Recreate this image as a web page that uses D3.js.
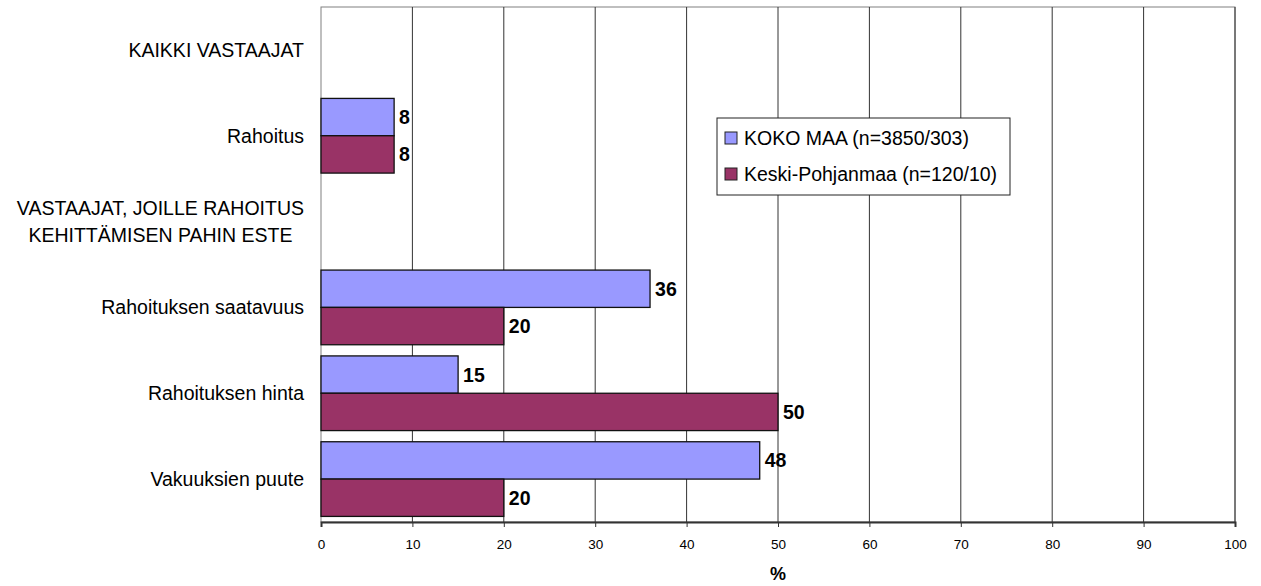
<!DOCTYPE html>
<html>
<head>
<meta charset="utf-8">
<script src="https://cdn.jsdelivr.net/npm/d3@7"></script>
<style>
body { margin: 0; background: #fff; }
text { font-family: "Liberation Sans", Arial, sans-serif; fill: #000; }
</style>
</head>
<body>
<div class="container"></div>
<script>
const width = 1261, height = 586;

const categories = [
	['KAIKKI VASTAAJAT'],
	['Rahoitus'],
	['VASTAAJAT, JOILLE RAHOITUS', 'KEHITTÄMISEN PAHIN ESTE'],
	['Rahoituksen saatavuus'],
	['Rahoituksen hinta'],
	['Vakuuksien puute']
];
const seriesNames = ['KOKO MAA (n=3850/303)', 'Keski-Pohjanmaa (n=120/10)'];
const kokoMaa = [null, 8, null, 36, 15, 48];
const keskiPohjanmaa = [null, 8, null, 20, 50, 20];
const colors = ['#9999ff', '#993366'];
const xTicks = d3.range(0, 101, 10);

const m = {left: 321, right: 1235, top: 7, bottom: 522};

const sx = d3.scaleLinear().domain([0, 100]).range([m.left, m.right]);
const sy = d3.scaleBand().domain(d3.range(categories.length)).range([m.top, m.bottom]).paddingInner(0.13).paddingOuter(0.065);

let svg = d3.select('.container').append('svg')
	.attr('width', width).attr('height', height)
	.attr('viewBox', [0, 0, width, height]);

// plot frame + grid
svg.append('rect')
	.attr('x', m.left).attr('y', m.top)
	.attr('width', m.right - m.left).attr('height', m.bottom - m.top)
	.attr('fill', 'none').attr('stroke', '#808080');

svg.append('g').selectAll('line')
	.data(xTicks.slice(1))
	.join('line')
	.attr('x1', d => sx(d)).attr('x2', d => sx(d))
	.attr('y1', m.top).attr('y2', m.bottom)
	.attr('stroke', '#333').attr('stroke-width', 1);

// bars
const series = [kokoMaa, keskiPohjanmaa];
const sub = d3.scaleBand().domain([0, 1]).range([0, sy.bandwidth()]);

series.forEach((vals, si) => {
	let rows = vals.map((v, i) => ({i, v})).filter(d => d.v != null);
	let g = svg.append('g');
	g.selectAll('rect')
		.data(rows)
		.join('rect')
		.attr('x', sx(0))
		.attr('y', d => sy(d.i) + sub(si))
		.attr('width', d => sx(d.v) - sx(0))
		.attr('height', sub.bandwidth())
		.attr('fill', colors[si])
		.attr('stroke', '#111').attr('stroke-width', 1.3);
	g.selectAll('text')
		.data(rows)
		.join('text')
		.attr('x', d => sx(d.v) + 5)
		.attr('y', d => sy(d.i) + sub(si) + sub.bandwidth() / 2)
		.attr('dominant-baseline', 'central')
		.attr('font-size', 19.5).attr('font-weight', 'bold')
		.text(d => d.v);
});

// x axis
const xAxis = d3.axisBottom(sx).tickValues(xTicks).tickSize(5).tickPadding(12);
let ax = svg.append('g').attr('transform', 'translate(0,' + m.bottom + ')').call(xAxis);
ax.select('.domain').attr('stroke', '#333').attr('stroke-width', 2);
ax.selectAll('.tick line').attr('stroke', '#333');
ax.selectAll('.tick text').attr('font-size', 13.5).attr('fill', '#000')
	.style('font-family', '"Liberation Sans", Arial, sans-serif');

svg.append('text')
	.attr('x', sx(50)).attr('y', 580)
	.attr('text-anchor', 'middle')
	.attr('font-size', 18).attr('font-weight', 'bold')
	.text('%');

// category labels: block right-aligned, lines centered within block
let cl = svg.append('g').selectAll('text')
	.data(categories)
	.join('text')
	.attr('font-size', 19.5)
	.attr('y', (d, i) => sy(i) + sy.bandwidth() / 2);
cl.each(function(lines) {
	let t = d3.select(this);
	lines.forEach((s, k) => {
		t.append('tspan')
			.attr('x', 304)
			.attr('dy', k === 0 ? (0.35 - (lines.length - 1) * 0.7) + 'em' : '1.4em')
			.text(s);
	});
	let w = d3.max(t.selectAll('tspan').nodes(), n => n.getComputedTextLength());
	t.attr('text-anchor', 'middle');
	t.selectAll('tspan').attr('x', 304 - w / 2);
});

// legend
let lg = svg.append('g').attr('transform', 'translate(717,118)');
lg.append('rect').attr('width', 293).attr('height', 77)
	.attr('fill', '#fff').attr('stroke', '#222');
seriesNames.forEach((s, i) => {
	let y = 20 + i * 36;
	lg.append('rect').attr('x', 8).attr('y', y - 6).attr('width', 12).attr('height', 12)
		.attr('fill', colors[i]).attr('stroke', '#222');
	lg.append('text').attr('x', 27).attr('y', y).attr('dominant-baseline', 'central')
		.attr('font-size', 19.5).text(s);
});
</script>
</body>
</html>
